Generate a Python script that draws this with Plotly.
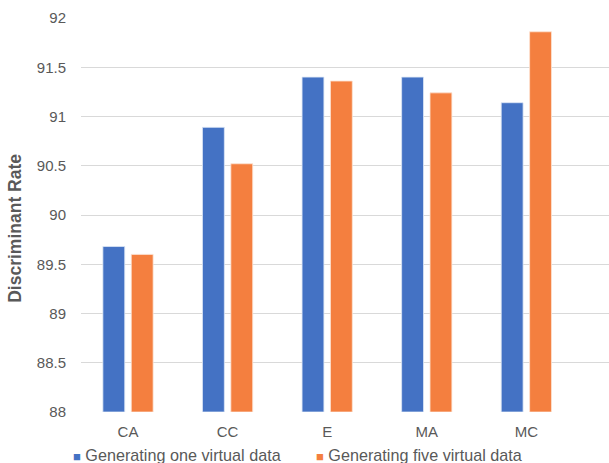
import plotly.graph_objects as go

categories = ["CA", "CC", "E", "MA", "MC"]
one_virtual = [89.68, 90.89, 91.40, 91.40, 91.14]
five_virtual = [89.60, 90.52, 91.36, 91.24, 91.86]
series_names = ["Generating one virtual data", "Generating five virtual data"]
y_ticks = [88, 88.5, 89, 89.5, 90, 90.5, 91, 91.5, 92]
y_tick_text = ["88", "88.5", "89", "89.5", "90", "90.5", "91", "91.5", "92"]
y_title = "Discriminant Rate"
BASE = 88

BLUE = "#4472C4"
ORANGE = "#F47F3F"
TEXT = "#595959"
FONT = "Liberation Sans, Arial, sans-serif"

fig = go.Figure()
for name, vals, color, edge in [
    (series_names[0], one_virtual, BLUE, "#dce6f5"),
    (series_names[1], five_virtual, ORANGE, "#fde3d3"),
]:
    fig.add_trace(go.Bar(
        x=list(range(len(categories))), y=[v - BASE for v in vals], base=BASE,
        name=name, showlegend=False,
        marker=dict(color=color, line=dict(color=edge, width=0.8)),
    ))

# legend row drawn as text: coloured square + series name
legend_x = [-0.0195, 0.441]
for name, color, lx in zip(series_names, [BLUE, ORANGE], legend_x):
    fig.add_annotation(
        xref="paper", yref="paper", x=lx, y=-0.108, xanchor="left", yanchor="middle",
        showarrow=False,
        text=f"<span style='color:{color};font-size:13px'>■</span> {name}",
        font=dict(size=16.2, color=TEXT, family=FONT),
    )

# vertical axis title, placed a little below the plot's mid-height
fig.add_annotation(
    xref="paper", yref="paper", x=-0.125, y=0.465, xanchor="center", yanchor="middle",
    showarrow=False, textangle=-90,
    text=f"<b>{y_title}</b>", font=dict(size=17.5, color=TEXT, family=FONT),
)

fig.update_layout(
    width=609, height=463,
    margin=dict(l=81, r=0, t=18, b=51),
    plot_bgcolor="white", paper_bgcolor="white",
    barmode="group", bargap=0.43, bargroupgap=0.23,
    font=dict(family=FONT, color=TEXT, size=14),
    showlegend=False,
)
fig.update_xaxes(
    tickmode="array", tickvals=list(range(len(categories))), ticktext=categories,
    range=[-0.472, 4.83], showgrid=False, zeroline=False, showline=False,
    ticks="", tickfont=dict(size=15, color=TEXT), ticklabelstandoff=9,
)
fig.update_yaxes(
    range=[88, 92], tickmode="array", tickvals=y_ticks, ticktext=y_tick_text,
    showgrid=True, gridcolor="#d9d9d9", gridwidth=1, zeroline=False,
    showline=False, ticks="", tickfont=dict(size=15, color=TEXT),
    ticklabelstandoff=14,
)

fig.write_html("out.html")
